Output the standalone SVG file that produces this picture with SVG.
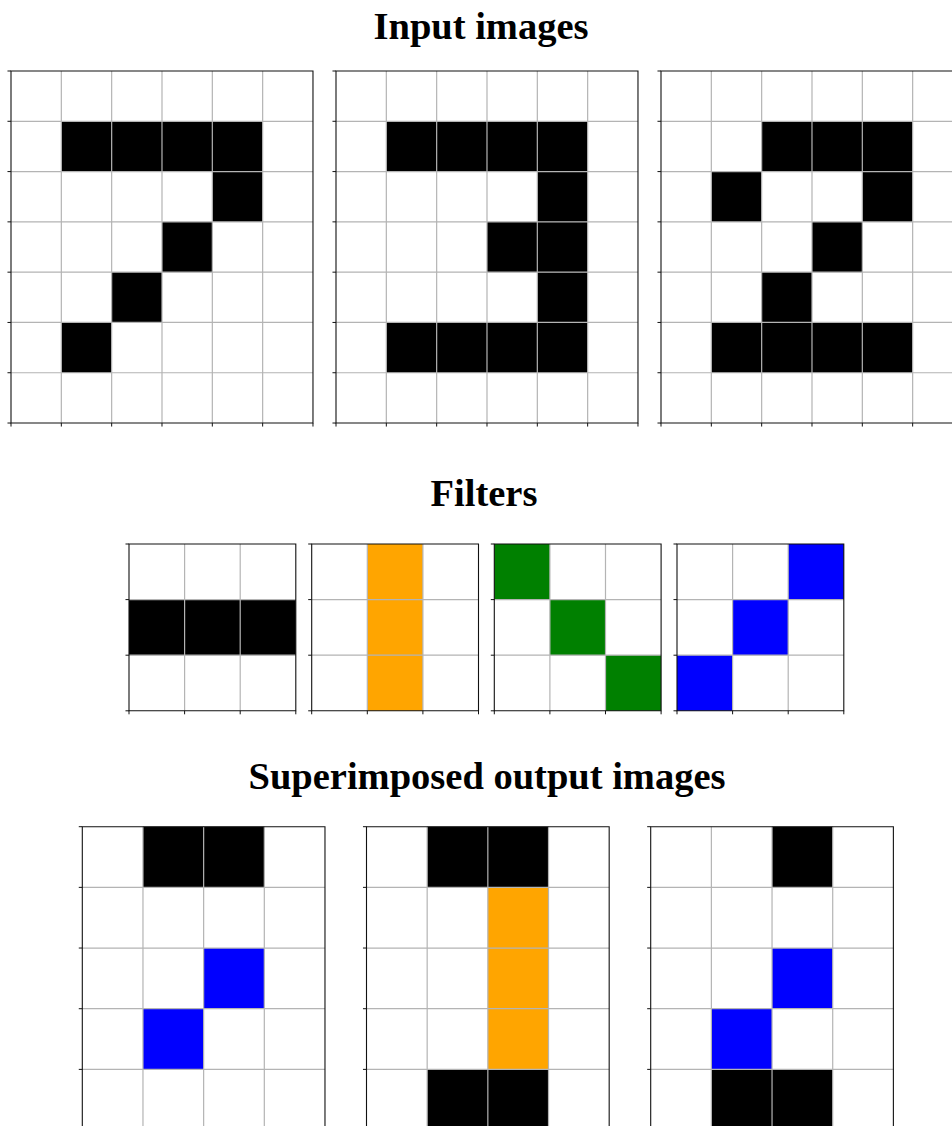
<svg xmlns="http://www.w3.org/2000/svg" width="952" height="1126" viewBox="0 0 952 1126">
<style>
.t{font-family:"Liberation Serif","Times New Roman",serif;font-weight:bold;font-size:38.5px;fill:#000;text-anchor:middle}
.bg{fill:#fff}
.k{fill:#000}
.o{fill:#FFA500}
.g{fill:#008000}
.b{fill:#0000FF}
.gl{fill:none;stroke:#b4b4b4;stroke-width:1.2;vector-effect:non-scaling-stroke}
.sp{fill:none;stroke:#111;stroke-width:1.1;vector-effect:non-scaling-stroke}
.tk{fill:none;stroke:#111;stroke-width:1;vector-effect:non-scaling-stroke}
</style>
<rect width="952" height="1126" fill="#fff"/>
<text class="t" x="481" y="39">Input images</text>
<text class="t" x="484" y="506">Filters</text>
<text class="t" x="487" y="789">Superimposed output images</text>

<g id="input-1" transform="translate(11,71) scale(50.33,50.29)">
<rect class="bg" x="0" y="0" width="6" height="7"/>
<rect class="k" x="1" y="1" width="4" height="1"/>
<rect class="k" x="4" y="2" width="1" height="1"/>
<rect class="k" x="3" y="3" width="1" height="1"/>
<rect class="k" x="2" y="4" width="1" height="1"/>
<rect class="k" x="1" y="5" width="1" height="1"/>
<path class="gl" d="M1 0V7M2 0V7M3 0V7M4 0V7M5 0V7M0 1H6M0 2H6M0 3H6M0 4H6M0 5H6M0 6H6"/>
<rect class="sp" x="0" y="0" width="6" height="7"/>
<path class="tk" d="M-0.07 0H0M-0.07 1H0M-0.07 2H0M-0.07 3H0M-0.07 4H0M-0.07 5H0M-0.07 6H0M-0.07 7H0M0 7V7.07M1 7V7.07M2 7V7.07M3 7V7.07M4 7V7.07M5 7V7.07M6 7V7.07"/>
</g>

<g id="input-2" transform="translate(336,71) scale(50.33,50.29)">
<rect class="bg" x="0" y="0" width="6" height="7"/>
<rect class="k" x="1" y="1" width="4" height="1"/>
<rect class="k" x="4" y="2" width="1" height="1"/>
<rect class="k" x="3" y="3" width="2" height="1"/>
<rect class="k" x="4" y="4" width="1" height="1"/>
<rect class="k" x="1" y="5" width="4" height="1"/>
<path class="gl" d="M1 0V7M2 0V7M3 0V7M4 0V7M5 0V7M0 1H6M0 2H6M0 3H6M0 4H6M0 5H6M0 6H6"/>
<rect class="sp" x="0" y="0" width="6" height="7"/>
<path class="tk" d="M-0.07 0H0M-0.07 1H0M-0.07 2H0M-0.07 3H0M-0.07 4H0M-0.07 5H0M-0.07 6H0M-0.07 7H0M0 7V7.07M1 7V7.07M2 7V7.07M3 7V7.07M4 7V7.07M5 7V7.07M6 7V7.07"/>
</g>

<g id="input-3" transform="translate(661,71) scale(50.33,50.29)">
<rect class="bg" x="0" y="0" width="6" height="7"/>
<rect class="k" x="2" y="1" width="3" height="1"/>
<rect class="k" x="1" y="2" width="1" height="1"/>
<rect class="k" x="4" y="2" width="1" height="1"/>
<rect class="k" x="3" y="3" width="1" height="1"/>
<rect class="k" x="2" y="4" width="1" height="1"/>
<rect class="k" x="1" y="5" width="4" height="1"/>
<path class="gl" d="M1 0V7M2 0V7M3 0V7M4 0V7M5 0V7M0 1H6M0 2H6M0 3H6M0 4H6M0 5H6M0 6H6"/>
<rect class="sp" x="0" y="0" width="6" height="7"/>
<path class="tk" d="M-0.07 0H0M-0.07 1H0M-0.07 2H0M-0.07 3H0M-0.07 4H0M-0.07 5H0M-0.07 6H0M-0.07 7H0M0 7V7.07M1 7V7.07M2 7V7.07M3 7V7.07M4 7V7.07M5 7V7.07M6 7V7.07"/>
</g>

<g id="filter-1" transform="translate(129,544) scale(55.6,55.6)">
<rect class="bg" x="0" y="0" width="3" height="3"/>
<rect class="k" x="0" y="1" width="3" height="1"/>
<path class="gl" d="M1 0V3M2 0V3M0 1H3M0 2H3"/>
<rect class="sp" x="0" y="0" width="3" height="3"/>
<path class="tk" d="M-0.063 0H0M-0.063 1H0M-0.063 2H0M-0.063 3H0M0 3V3.063M1 3V3.063M2 3V3.063M3 3V3.063"/>
</g>

<g id="filter-2" transform="translate(311.7,544) scale(55.6,55.6)">
<rect class="bg" x="0" y="0" width="3" height="3"/>
<rect class="o" x="1" y="0" width="1" height="3"/>
<path class="gl" d="M1 0V3M2 0V3M0 1H3M0 2H3"/>
<rect class="sp" x="0" y="0" width="3" height="3"/>
<path class="tk" d="M-0.063 0H0M-0.063 1H0M-0.063 2H0M-0.063 3H0M0 3V3.063M1 3V3.063M2 3V3.063M3 3V3.063"/>
</g>

<g id="filter-3" transform="translate(494.3,544) scale(55.6,55.6)">
<rect class="bg" x="0" y="0" width="3" height="3"/>
<rect class="g" x="0" y="0" width="1" height="1"/>
<rect class="g" x="1" y="1" width="1" height="1"/>
<rect class="g" x="2" y="2" width="1" height="1"/>
<path class="gl" d="M1 0V3M2 0V3M0 1H3M0 2H3"/>
<rect class="sp" x="0" y="0" width="3" height="3"/>
<path class="tk" d="M-0.063 0H0M-0.063 1H0M-0.063 2H0M-0.063 3H0M0 3V3.063M1 3V3.063M2 3V3.063M3 3V3.063"/>
</g>

<g id="filter-4" transform="translate(677,544) scale(55.6,55.6)">
<rect class="bg" x="0" y="0" width="3" height="3"/>
<rect class="b" x="2" y="0" width="1" height="1"/>
<rect class="b" x="1" y="1" width="1" height="1"/>
<rect class="b" x="0" y="2" width="1" height="1"/>
<path class="gl" d="M1 0V3M2 0V3M0 1H3M0 2H3"/>
<rect class="sp" x="0" y="0" width="3" height="3"/>
<path class="tk" d="M-0.063 0H0M-0.063 1H0M-0.063 2H0M-0.063 3H0M0 3V3.063M1 3V3.063M2 3V3.063M3 3V3.063"/>
</g>

<g id="output-1" transform="translate(82.3,826.7) scale(60.67,60.67)">
<rect class="bg" x="0" y="0" width="4" height="5"/>
<rect class="k" x="1" y="0" width="2" height="1"/>
<rect class="b" x="2" y="2" width="1" height="1"/>
<rect class="b" x="1" y="3" width="1" height="1"/>
<path class="gl" d="M1 0V5M2 0V5M3 0V5M0 1H4M0 2H4M0 3H4M0 4H4"/>
<rect class="sp" x="0" y="0" width="4" height="5"/>
<path class="tk" d="M-0.058 0H0M-0.058 1H0M-0.058 2H0M-0.058 3H0M-0.058 4H0M-0.058 5H0"/>
</g>

<g id="output-2" transform="translate(366.5,826.7) scale(60.67,60.67)">
<rect class="bg" x="0" y="0" width="4" height="5"/>
<rect class="k" x="1" y="0" width="2" height="1"/>
<rect class="o" x="2" y="1" width="1" height="3"/>
<rect class="k" x="1" y="4" width="2" height="1"/>
<path class="gl" d="M1 0V5M2 0V5M3 0V5M0 1H4M0 2H4M0 3H4M0 4H4"/>
<rect class="sp" x="0" y="0" width="4" height="5"/>
<path class="tk" d="M-0.058 0H0M-0.058 1H0M-0.058 2H0M-0.058 3H0M-0.058 4H0M-0.058 5H0"/>
</g>

<g id="output-3" transform="translate(650.7,826.7) scale(60.67,60.67)">
<rect class="bg" x="0" y="0" width="4" height="5"/>
<rect class="k" x="2" y="0" width="1" height="1"/>
<rect class="b" x="2" y="2" width="1" height="1"/>
<rect class="b" x="1" y="3" width="1" height="1"/>
<rect class="k" x="1" y="4" width="2" height="1"/>
<path class="gl" d="M1 0V5M2 0V5M3 0V5M0 1H4M0 2H4M0 3H4M0 4H4"/>
<rect class="sp" x="0" y="0" width="4" height="5"/>
<path class="tk" d="M-0.058 0H0M-0.058 1H0M-0.058 2H0M-0.058 3H0M-0.058 4H0M-0.058 5H0"/>
</g>

<g id="connectors"></g>
</svg>
